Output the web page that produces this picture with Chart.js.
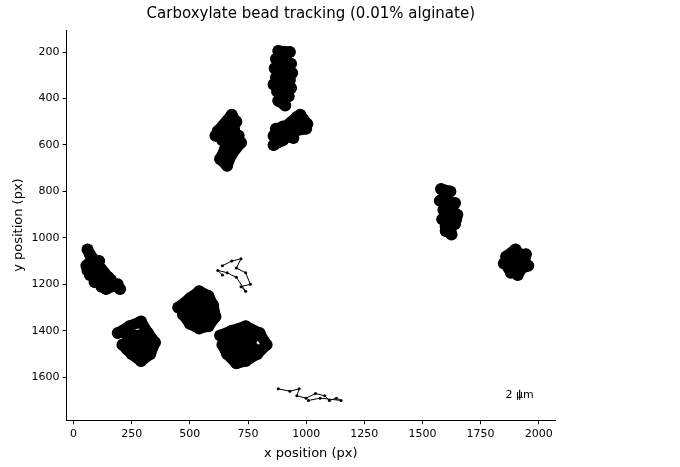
<!DOCTYPE html>
<html>
<head>
<meta charset="utf-8">
<script src="https://cdn.jsdelivr.net/npm/chart.js@4"></script>
<style>body{margin:0;background:#fff}#wrap{width:680px;height:467px}</style>
</head>
<body>
<div id="wrap"><canvas id="c"></canvas></div>
<script>
// bead trajectories, [x px, y px]
const bead1 = [[880,195],[930,200],[870,230],[935,250],[865,270],[940,290],[870,310],[930,320],[860,340],[935,355],[875,370],[925,390],[880,410],[910,430],[900,380],[915,300],[895,240],[905,340]];
const bead2 = [[860,560],[900,520],[870,590],[940,500],[880,545],[960,480],[920,560],[990,500],[1000,530],[950,540],[900,580],[860,600],[975,470],[1005,510],[930,515],[870,530],[945,570]];
const bead3 = [[620,540],[680,470],[700,500],[640,580],[710,560],[660,530],[700,610],[650,620],[630,660],[660,690],[680,640],[720,590],[610,560],[690,530],[670,600],[640,650]];
const bead4 = [[1580,790],[1620,800],[1575,840],[1640,850],[1590,880],[1650,900],[1585,920],[1640,940],[1600,970],[1625,985],[1610,910],[1630,870],[1595,830],[1645,920],[1600,950]];
const bead5 = [[1860,1080],[1900,1050],[1940,1090],[1850,1110],[1955,1120],[1880,1150],[1920,1140],[1900,1100],[1870,1130],[1945,1070],[1910,1160],[1880,1090]];
const bead6 = [[60,1050],[80,1090],[55,1120],[110,1100],[70,1160],[130,1150],[90,1190],[160,1180],[120,1210],[190,1200],[140,1220],[100,1130],[70,1070],[150,1170],[60,1140],[200,1220]];
const bead7 = [[640,1120],[680,1100],[720,1090],[700,1130],[740,1150],[760,1200],[720,1210],[740,1230],[700,1170],[660,1150],[620,1140],[640,1160]];
const bead8 = [[450,1300],[500,1260],[540,1230],[580,1250],[600,1290],[610,1340],[580,1380],[540,1390],[500,1370],[470,1330],[520,1300],[560,1320],[540,1270],[500,1330],[580,1310],[530,1350],[480,1290],[560,1360],[520,1320],[550,1300],[510,1350],[570,1340]];
const bead9 = [[190,1410],[240,1380],[290,1360],[320,1410],[350,1450],[330,1500],[290,1530],[250,1500],[210,1460],[260,1440],[300,1460],[280,1420],[230,1420],[320,1480],[270,1480],[250,1450],[290,1440],[270,1500],[230,1480]];
const bead10 = [[630,1420],[680,1400],[740,1380],[800,1410],[830,1460],[790,1500],[740,1530],[700,1540],[660,1500],[640,1460],[700,1450],[760,1450],[720,1420],[780,1480],[680,1480],[730,1490],[700,1470],[750,1470],[720,1510],[680,1440],[770,1430]];
const bead11 = [[880,1650],[930,1660],[970,1650],[960,1680],[1000,1690],[1040,1670],[1080,1680],[1100,1700],[1130,1690],[1150,1700],[1060,1690],[1010,1700]];
const dense = [bead1, bead2, bead3, bead4, bead5, bead6, bead8, bead9, bead10];
const sparse = [bead7, bead11];
const xTicks = [0, 250, 500, 750, 1000, 1250, 1500, 1750, 2000];
const yTicks = [200, 400, 600, 800, 1000, 1200, 1400, 1600];
const titleText = 'Carboxylate bead tracking (0.01% alginate)';

const toPts = a => a.map(p => ({x: p[0], y: p[1]}));
const datasets = [
  ...dense.map(b => ({data: toPts(b), showLine: true, borderColor: '#000', backgroundColor: '#000', borderWidth: 11, pointRadius: 4, pointBorderWidth: 0, borderJoinStyle: 'round', borderCapStyle: 'round'})),
  ...dense.map(b => ({data: toPts(b), showLine: true, borderColor: '#000', backgroundColor: '#000', borderWidth: 1, pointRadius: 6, pointBorderWidth: 0, tension: 0.6})),
  ...sparse.map(b => ({data: toPts(b), showLine: true, borderColor: '#000', backgroundColor: '#000', borderWidth: 1, pointRadius: 1.5, pointBorderWidth: 0}))
];

const extras = {
  id: 'extras',
  afterDatasetsDraw(chart) {
    const {ctx, chartArea, scales: {x, y}} = chart;
    const px = x.getPixelForValue(1918), py = y.getPixelForValue(1675);
    ctx.save();
    ctx.strokeStyle = '#000'; ctx.lineWidth = 1.2;
    ctx.beginPath(); ctx.moveTo(px, py - 5); ctx.lineTo(px, py + 5); ctx.stroke();
    ctx.fillStyle = '#000'; ctx.font = '11px "DejaVu Sans"';
    ctx.textAlign = 'center'; ctx.textBaseline = 'middle';
    ctx.fillText('2 µm', px, py);
    ctx.font = '15px "DejaVu Sans"';
    ctx.fillText(titleText, (chartArea.left + chartArea.right) / 2, 14);
    ctx.restore();
  }
};

const axis = (min, max, ticks, title, reverse) => ({
  type: 'linear', min, max, reverse,
  afterBuildTicks: s => { s.ticks = ticks.map(v => ({value: v})); },
  grid: {drawOnChartArea: false, drawTicks: true, tickLength: 4, color: '#000'},
  border: {color: '#000'},
  ticks: {color: '#000', font: {size: 11, family: 'DejaVu Sans'}, padding: 3, callback: v => String(v)},
  title: {display: true, text: title, color: '#000', font: {size: 13, family: 'DejaVu Sans'}, padding: 2}
});

new Chart(document.getElementById('c'), {
  type: 'scatter',
  data: {datasets},
  plugins: [extras],
  options: {
    responsive: true, maintainAspectRatio: false, animation: false,
    layout: {padding: {left: 9, right: 125, top: 30, bottom: 4}},
    plugins: {legend: {display: false}, tooltip: {enabled: false}, title: {display: false}},
    scales: {
      x: axis(-30, 2070, xTicks, 'x position (px)', false),
      y: axis(105, 1785, yTicks, 'y position (px)', true)
    }
  }
});
</script>
</body>
</html>
